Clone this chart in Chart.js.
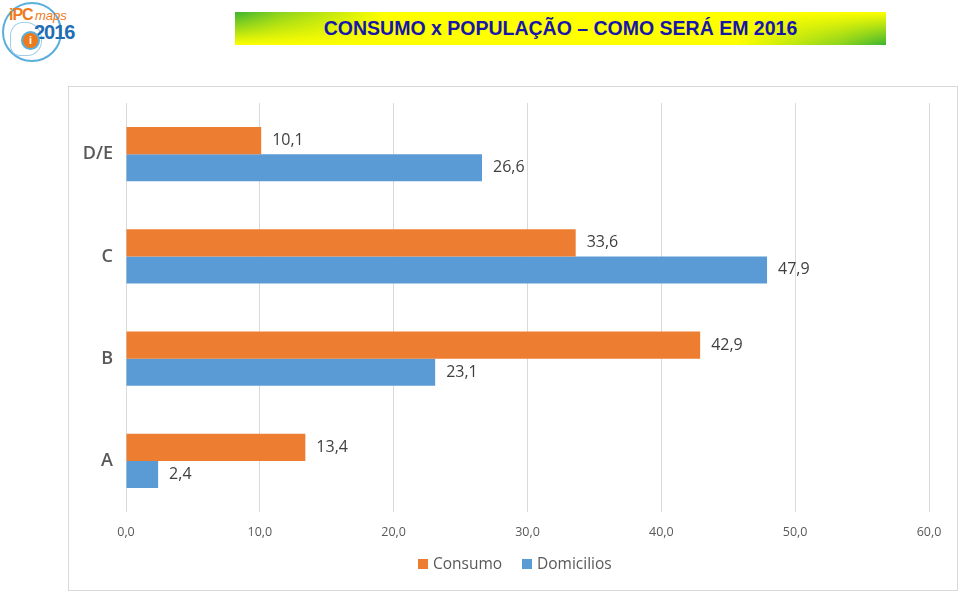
<!DOCTYPE html>
<html>
<head>
<meta charset="utf-8">
<script src="https://cdn.jsdelivr.net/npm/chart.js@4/dist/chart.umd.min.js"></script>
<style>
  html, body { margin: 0; padding: 0; background: #fff; width: 960px; height: 591px; overflow: hidden; font-family: "Liberation Sans", Arial, sans-serif; }
  #logo { position: absolute; left: 2px; top: 2px; width: 56px; height: 56px; border: 2px solid #5aaedc; border-radius: 50%; }
  #logo .ipc { position: absolute; left: 5px; top: 2px; font: bold 16px "Liberation Sans", Arial, sans-serif; color: #ef7a1a; letter-spacing: -1px; }
  #logo .maps { position: absolute; left: 31px; top: 4px; font: italic 13px "Liberation Sans", Arial, sans-serif; color: #ef7a1a; }
  #logo .yr { position: absolute; left: 30px; top: 17px; font: bold 20px "Liberation Sans", Arial, sans-serif; color: #1f6db3; letter-spacing: -1px; }
  #logo .dot { position: absolute; left: 17px; top: 27px; width: 15px; height: 15px; border-radius: 50%; background: #ef7a1a; border: 2px solid #5aaedc; color: #fff; font: bold 11px Arial, sans-serif; text-align: center; line-height: 15px; }
  #logo .map { position: absolute; left: 6px; top: 18px; width: 30px; height: 32px; border: 1px solid #9fd0ea; border-radius: 40% 50% 45% 30%; }
  #banner { position: absolute; left: 235px; top: 12px; width: 651px; height: 33px; background: #ffff00; overflow: hidden; }
  #banner .l { position: absolute; left: 0; top: 0; width: 150px; height: 33px;
    background: linear-gradient(to bottom, #3cb431, #ffff00);
    -webkit-mask-image: linear-gradient(to right, #000 0%, rgba(0,0,0,0.6) 30%, transparent 100%);
    mask-image: linear-gradient(to right, #000 0%, rgba(0,0,0,0.6) 30%, transparent 100%); }
  #banner .r { position: absolute; right: 0; top: 0; width: 150px; height: 33px;
    background: linear-gradient(to bottom, #ffff00, #3cb431);
    -webkit-mask-image: linear-gradient(to left, #000 0%, rgba(0,0,0,0.6) 30%, transparent 100%);
    mask-image: linear-gradient(to left, #000 0%, rgba(0,0,0,0.6) 30%, transparent 100%); }
  #banner .t { position: absolute; left: 0; top: 0; width: 651px; height: 33px; text-align: center;
    font: bold 19.5px "Liberation Sans", Arial, sans-serif; line-height: 33px; color: #1616a8; }
  #box { position: absolute; left: 68px; top: 86px; width: 888px; height: 503px; border: 1px solid #d9d9d9; }
  #wrap { position: absolute; left: 0; top: 0; width: 888px; height: 503px; }
  #legend { position: absolute; left: 0; top: 553px; width: 960px; height: 20px; font-family: "Open Sans", sans-serif; font-size: 15.5px; color: #595959; }
  #legend .item { position: absolute; top: 0; line-height: 20px; white-space: nowrap; }
  #legend .sw { display: inline-block; width: 10px; height: 10px; margin-right: 5px; vertical-align: 0px; }
</style>
</head>
<body>
<div id="logo"><div class="map"></div><span class="ipc">iPC</span><span class="maps">maps</span><span class="yr">2016</span><div class="dot">i</div></div>
<div id="banner"><div class="l"></div><div class="r"></div><div class="t">CONSUMO x POPULAÇÃO – COMO SERÁ EM 2016</div></div>
<div id="box"><div id="wrap"><canvas id="c"></canvas></div></div>
<div id="legend"></div>
<script>
const categories = ["D/E", "C", "B", "A"];
const consumo = [10.1, 33.6, 42.9, 13.4];
const domicilios = [26.6, 47.9, 23.1, 2.4];
const seriesNames = ["Consumo", "Domicilios"];
const seriesColors = ["#ed7d31", "#5b9bd5"];
const xTicks = [0, 10, 20, 30, 40, 50, 60];

const fmt = v => v.toFixed(1).replace('.', ',');

const labelPlugin = {
  id: 'barLabels',
  afterDatasetsDraw(chart) {
    const ctx = chart.ctx;
    ctx.save();
    ctx.font = '16px "Open Sans", sans-serif';
    ctx.fillStyle = '#404040';
    ctx.textAlign = 'left';
    ctx.textBaseline = 'middle';
    chart.data.datasets.forEach((ds, i) => {
      chart.getDatasetMeta(i).data.forEach((bar, j) => {
        ctx.fillText(fmt(ds.data[j]), bar.x + 11, bar.y);
      });
    });
    ctx.restore();
  }
};

const chart = new Chart(document.getElementById('c'), {
  type: 'bar',
  data: {
    labels: categories,
    datasets: seriesNames.map((n, i) => ({
      label: n, data: i === 0 ? consumo : domicilios, backgroundColor: seriesColors[i],
      categoryPercentage: 0.53, barPercentage: 1.0
    }))
  },
  options: {
    indexAxis: 'y',
    responsive: true,
    maintainAspectRatio: false,
    animation: false,
    layout: { padding: { top: 16, right: 28, left: 0, bottom: 37 } },
    scales: {
      x: {
        min: 0, max: 60,
        afterBuildTicks(axis) { axis.ticks = xTicks.map(v => ({ value: v })); },
        grid: { color: '#d9d9d9', drawTicks: false },
        border: { display: false },
        ticks: { padding: 13, color: '#595959', font: { family: '"Open Sans", sans-serif', size: 12.5 }, callback: v => fmt(v) }
      },
      y: {
        grid: { display: false, drawTicks: false },
        border: { display: false },
        afterFit(axis) { axis.width = 57; axis.paddingTop = 0; axis.paddingBottom = 0; },
        ticks: { padding: 13, color: '#595959', font: { family: '"Open Sans", sans-serif', size: 18, weight: '600' } }
      }
    },
    plugins: {
      legend: { display: false },
      tooltip: { enabled: false }
    }
  },
  plugins: [labelPlugin]
});

// legend as real text, built from the dataset names and colours
const lg = document.getElementById('legend');
const legendX = [418, 522];
seriesNames.forEach((n, i) => {
  const it = document.createElement('div');
  it.className = 'item';
  it.style.left = legendX[i] + 'px';
  const sw = document.createElement('span');
  sw.className = 'sw';
  sw.style.background = seriesColors[i];
  it.appendChild(sw);
  it.appendChild(document.createTextNode(n));
  lg.appendChild(it);
});
</script>
</body>
</html>
